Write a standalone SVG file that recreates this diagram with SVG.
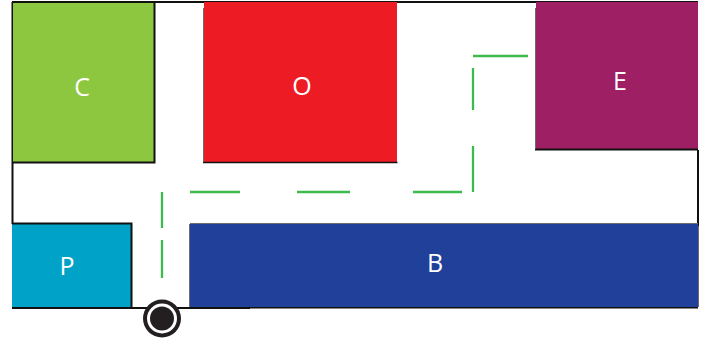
<svg xmlns="http://www.w3.org/2000/svg" width="706" height="342" viewBox="0 0 706 342">
<style>
.room{stroke:none}
.edge{fill:none;stroke:#111;stroke-width:2}
.thin{fill:none;stroke:#6d6d6d;stroke-width:1}
.lbl{font-family:"Open Sans","Noto Sans",sans-serif;font-size:25px;font-weight:400;fill:#fff;text-anchor:middle}
.path{fill:none;stroke:#3dba4e;stroke-width:2.300}
</style>
<rect width="706" height="342" fill="#fff"/>
<g id="walls">
<path class="edge" d="M12 2H698M12.500 2V224M698 150V226"/>
<path class="thin" d="M698.500 226V307"/>
<path class="edge" d="M12 308H250"/>
<path class="edge" style="stroke-width:1.500" d="M250 307.800H698"/>
</g>
<g id="node-C">
<rect class="room" x="13" y="3" width="141" height="159" fill="#8dc63f"/>
<path class="edge" d="M154.500 2V162.500H12"/>
<text class="lbl" x="82" y="96">C</text>
</g>
<g id="node-O">
<rect class="room" x="204" y="2" width="193" height="160" fill="#ed1c24"/>
<path class="edge" style="stroke-width:1.500" d="M203 162.500H397.500"/>
<path class="thin" d="M203.500 8V162"/>
<text class="lbl" x="302" y="95">O</text>
</g>
<g id="node-E">
<rect class="room" x="536" y="2" width="162" height="147" fill="#9e1f63"/>
<path class="edge" d="M535 149.500H698"/>
<path class="thin" d="M535.500 8V149"/>
<text class="lbl" x="620" y="90">E</text>
</g>
<g id="node-P">
<rect class="room" x="12" y="224" width="119" height="83" fill="#00a3c7"/>
<path class="edge" d="M12 223.500H131.500V307"/>
<text class="lbl" x="67" y="275">P</text>
</g>
<g id="node-B">
<rect class="room" x="190" y="224" width="508" height="83" fill="#21409a"/>
<path class="thin" d="M189.500 224V307M190 223.500H698"/>
<text class="lbl" x="435" y="272">B</text>
</g>
<g id="connectors">
<path class="path" d="M162 192V228M162 240V278M190 192H240M297 192H350M413 192H462M473 192V146M473 110V68M473 56H528"/>
</g>
<g id="node-entrance">
<circle cx="162" cy="318.500" r="19" fill="#231f20"/>
<circle cx="162" cy="318.500" r="15" fill="#fff"/>
<circle cx="162" cy="318.500" r="12" fill="#231f20"/>
</g>
</svg>
